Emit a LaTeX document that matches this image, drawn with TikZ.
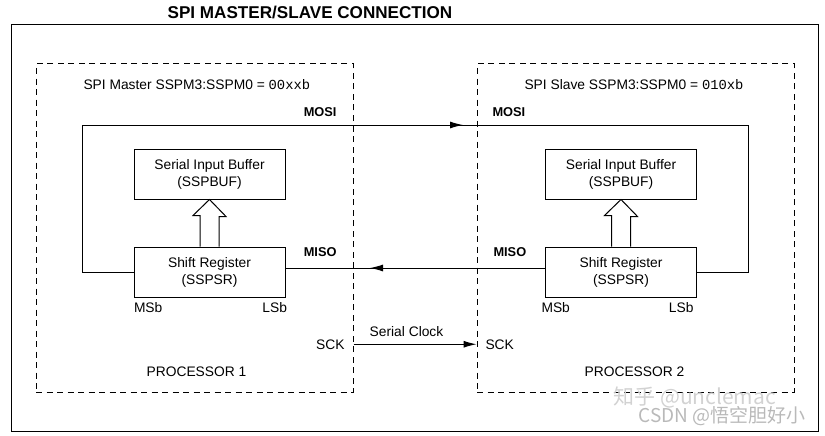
\documentclass[tikz,border=0pt]{standalone}
\usepackage{fontspec}
\setmainfont{Liberation Sans}
\setmonofont{Liberation Mono}
\newfontfamily\cjkfont{Noto Sans CJK SC}
\usetikzlibrary{positioning,arrows.meta,calc}

\begin{document}
\begin{tikzpicture}[x=1pt,y=-1pt,line width=1pt,font=\fontsize{13.8}{17}\selectfont]
	\tikzset{>={Latex[length=13pt,width=7pt]}}
	\tikzset{reg/.style={draw, align=center, minimum width=151pt, minimum height=50pt}}
	\tikzset{proc/.style={draw, dash pattern=on 6pt off 4.5pt, minimum width=317pt, minimum height=328pt}}
	\tikzset{lbl/.style={anchor=base, inner sep=0pt}}
	\tikzset{sig/.style={lbl, anchor=base east, font=\fontsize{12.8}{15}\bfseries\selectfont}}
	\useasboundingbox (0,0) rectangle (825,436);

	\node[lbl, font=\fontsize{17.1}{20}\bfseries\selectfont] (title) at (310,19) {SPI MASTER/SLAVE CONNECTION};
	\draw (11,25) rectangle (818,431);

	\node[proc] (proc1) at (194.5,228) {};
	\node[proc] (proc2) at (635.5,228) {};
	\node[lbl, anchor=base west] (mode1) at (83,89) {SPI Master SSPM3:SSPM0 = \texttt{00xxb}};
	\node[lbl, anchor=base west] (mode2) at (524,89) {SPI Slave SSPM3:SSPM0 = \texttt{010xb}};

	\node[reg] (buf1) at (209.5,174) {Serial Input Buffer\\(SSPBUF)};
	\node[reg] (sr1) at (209.5,272) {Shift Register\\(SSPSR)};
	\node[reg] (buf2) at (621,174) {Serial Input Buffer\\(SSPBUF)};
	\node[reg] (sr2) at (621,272) {Shift Register\\(SSPSR)};
	\foreach \i in {1,2}
		\draw[line width=1pt] ($(sr\i.north)+(-9.5,0)$) -- ++(0,-31) -- ++(-7,0) -- (buf\i.south) -- ++(16.5,17) -- ++(-7,0) -- ($(sr\i.north)+(9.5,0)$);

	\node[sig] (mosi1) at (337,117) {MOSI};
	\node[sig, anchor=base west] (mosi2) at (492,117) {MOSI};
	\node[sig] (miso1) at (337,256) {MISO};
	\node[sig, anchor=base west] (miso2) at (493,256) {MISO};

	\coordinate (mosiL) at (82,125);
	\coordinate (mosiR) at (748,125);
	\coordinate (mosiTip) at (463,125);
	\draw (sr1.west) -| (mosiL) -- (mosiR) |- (sr2.east);
	\draw[->] (mosiL) -- (mosiTip);

	\coordinate (misoTip) at (370,268);
	\draw ([yshift=4pt]sr1.east) -- ([yshift=4pt]sr2.west);
	\draw[->] ([yshift=4pt]sr2.west) -- (misoTip);

	\node[lbl, anchor=base west] (msb1) at ($(sr1.south west)+(0,15)$) {MSb};
	\node[lbl, anchor=base east] (lsb1) at ($(sr1.south east)+(2,15)$) {LSb};
	\node[lbl, anchor=base west] (msb2) at ($(sr2.south west)+(-4,15)$) {MSb};
	\node[lbl, anchor=base east] (lsb2) at ($(sr2.south east)+(-3,15)$) {LSb};

	\node[lbl, anchor=base east] (sck1) at (345,349) {SCK};
	\node[lbl, anchor=base west] (sck2) at (485,349) {SCK};
	\draw[->] (proc1.east |- sck1) -- (proc2.west |- sck2);
	\node[lbl] (clk) at (406.5,336) {Serial Clock};

	\node[lbl] (cpu1) at (196.5,376) {PROCESSOR 1};
	\node[lbl] (cpu2) at (634.5,376) {PROCESSOR 2};

	\node[lbl, anchor=base west, text=gray!35, font=\cjkfont\fontsize{21}{24}\selectfont] (wm1) at (613,404) {知乎 @unclemac};
	\node[lbl, anchor=base west, text=gray!55, font=\cjkfont\fontsize{19}{22}\selectfont] (wm2) at (638,422) {CSDN @悟空胆好小};
\end{tikzpicture}
\end{document}
